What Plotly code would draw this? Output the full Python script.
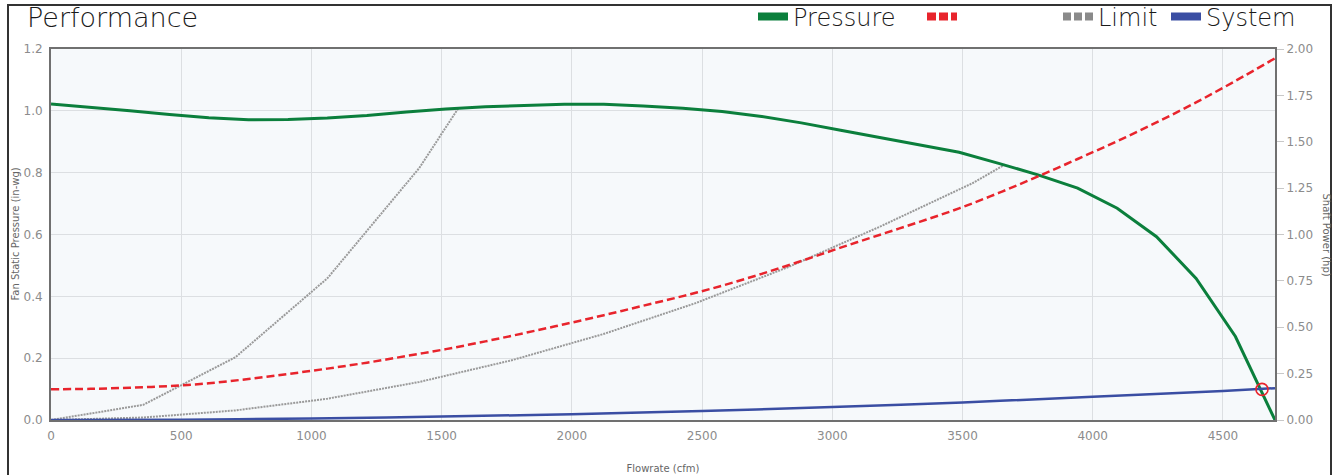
import plotly.graph_objects as go

# ---------------- data ----------------
flow = [0, 152, 303, 455, 606, 758, 910, 1061, 1213, 1365,
        1516, 1668, 1819, 1971, 2123, 2274, 2426, 2577, 2729, 2881,
        3032, 3184, 3335, 3487, 3639, 3790, 3942, 4094, 4245, 4397,
        4548, 4700]
pressure = [1.022, 1.012, 1.000, 0.988, 0.978, 0.971, 0.972, 0.977, 0.985, 0.996,
            1.006, 1.013, 1.018, 1.021, 1.021, 1.016, 1.008, 0.998, 0.982, 0.961,
            0.937, 0.914, 0.890, 0.866, 0.830, 0.793, 0.750, 0.685, 0.593, 0.458,
            0.270, 0.0]
power = [0.166, 0.168, 0.174, 0.183, 0.198, 0.221, 0.248, 0.277, 0.309, 0.345,
         0.382, 0.424, 0.469, 0.516, 0.565, 0.616, 0.668, 0.724, 0.788, 0.857,
         0.929, 0.999, 1.068, 1.141, 1.224, 1.313, 1.407, 1.503, 1.604, 1.712,
         1.828, 1.950]

limit_hi_flow = [0, 354, 708, 1062, 1414, 1563]
limit_hi = [0, 0.049, 0.203, 0.459, 0.815, 1.007]
limit_lo_flow = [0, 354, 708, 1062, 1414, 1768, 2121, 2475, 2829, 3182, 3536, 3662]
limit_lo = [0, 0.008, 0.031, 0.069, 0.123, 0.193, 0.278, 0.378, 0.494, 0.625, 0.765, 0.826]

sys_flow = [0, 500, 1000, 1500, 2000, 2500, 3000, 3500, 4000, 4500, 4700]
system = [0, 0.001, 0.005, 0.011, 0.019, 0.029, 0.042, 0.057, 0.075, 0.094, 0.103]

op_flow = [4650]
op_pressure = [0.099]

x_ticks = [0, 500, 1000, 1500, 2000, 2500, 3000, 3500, 4000, 4500]
y_ticks = [0.0, 0.2, 0.4, 0.6, 0.8, 1.0, 1.2]
y2_ticks = [0.0, 0.25, 0.5, 0.75, 1.0, 1.25, 1.5, 1.75, 2.0]

# ---------------- style ----------------
W, H = 1340, 475
ML, MR, MT, MB = 51, 65, 49, 55
PW = W - ML - MR
PH = H - MT - MB
FONT = "DejaVu Sans"
GREEN = "#0b7f3c"
RED = "#e8242c"
GRAY = "#9a9a9a"
BLUE = "#3a4ea3"


def px_x(px):
    return (px - ML) / PW


def px_y(py):
    return (H - MB - py) / PH


fig = go.Figure()

fig.add_trace(go.Scatter(x=limit_hi_flow, y=limit_hi, mode="lines", showlegend=False,
                         line=dict(color=GRAY, width=2, dash="2px,1px"), hoverinfo="skip"))
fig.add_trace(go.Scatter(x=limit_lo_flow, y=limit_lo, mode="lines", showlegend=False,
                         line=dict(color=GRAY, width=2, dash="2px,1px"), hoverinfo="skip"))
fig.add_trace(go.Scatter(x=flow, y=pressure, mode="lines", showlegend=False,
                         line=dict(color=GREEN, width=3)))
fig.add_trace(go.Scatter(x=sys_flow, y=system, mode="lines", showlegend=False,
                         line=dict(color=BLUE, width=2.5, shape="spline")))
fig.add_trace(go.Scatter(x=op_flow, y=op_pressure, mode="markers", showlegend=False,
                         marker=dict(size=12, color="rgba(0,0,0,0)",
                                     line=dict(color=RED, width=1.6))))
fig.add_trace(go.Scatter(x=flow, y=power, yaxis="y2", mode="lines", showlegend=False,
                         line=dict(color=RED, width=2.5, dash="8px,4px", shape="spline")))

# legend-only entries (thick symbols), each in its own legend box
leg_items = [("Pressure", GREEN, "solid", "legend", 753),
             (" ", RED, "9px,3px", "legend2", 922),
             ("Limit", "#8a8a8a", "8px,3px", "legend3", 1058),
             ("System", BLUE, "solid", "legend4", 1166)]
for name, col, dash, lg, _ in leg_items:
    fig.add_trace(go.Scatter(x=[None], y=[None], mode="lines", name=name, legend=lg,
                             line=dict(color=col, width=8, dash=dash)))


def legend_cfg(xpx):
    return dict(xref="paper", yref="paper", x=px_x(xpx), xanchor="left",
                y=px_y(17), yanchor="middle", orientation="h",
                bgcolor="rgba(0,0,0,0)", borderwidth=0,
                font=dict(family=FONT, size=24, color="#1a1a1a", weight=300))


layout_legends = {lg: legend_cfg(xp) for _, _, _, lg, xp in leg_items}

fig.update_layout(
    width=W, height=H,
    margin=dict(l=ML, r=MR, t=MT, b=MB, autoexpand=False),
    paper_bgcolor="white",
    plot_bgcolor="#f6f9fb",
    font=dict(family=FONT, color="#8c8c8c", size=12),
    title=dict(text="Performance", x=27 / W, xanchor="left", xref="container",
               y=1 - 18 / H, yanchor="middle", yref="container",
               font=dict(family=FONT, size=27, color="#1a1a1a", weight=300)),
    xaxis=dict(range=[0, 4700], tickvals=x_ticks, showgrid=True, gridcolor="#dcdfe2",
               gridwidth=1, zeroline=False, showline=True, linecolor="#707070",
               linewidth=2, mirror=True, ticks="outside", ticklen=4,
               tickcolor="rgba(0,0,0,0)", automargin=False,
               tickfont=dict(family=FONT, size=12, color="#8c8c8c"),
               title=dict(text="Flowrate (cfm)", standoff=23,
                          font=dict(family=FONT, size=10, color="#666"))),
    yaxis=dict(range=[0, 1.2], tickvals=y_ticks, tickformat=".1f", showgrid=True,
               gridcolor="#dcdfe2", gridwidth=1, zeroline=False, showline=True,
               linecolor="#707070", linewidth=2, mirror=True, ticks="outside",
               ticklen=4, tickcolor="rgba(0,0,0,0)", automargin=False,
               tickfont=dict(family=FONT, size=12, color="#8c8c8c")),
    yaxis2=dict(range=[0, 2.0], tickvals=y2_ticks, tickformat=".2f", overlaying="y",
                side="right", showgrid=False, zeroline=False, showline=True,
                linecolor="#707070", linewidth=2, ticks="outside", ticklen=7,
                tickcolor="#c8c8c8", automargin=False,
                tickfont=dict(family=FONT, size=12, color="#8c8c8c")),
    annotations=[
        dict(text="Fan Static Pressure (in-wg)", xref="paper", yref="paper",
             x=px_x(15), y=0.5, xanchor="center", yanchor="middle",
             textangle=-90, showarrow=False,
             font=dict(family=FONT, size=10, color="#666")),
        dict(text="Shaft Power (hp)", xref="paper", yref="paper",
             x=px_x(1326), y=0.5, xanchor="center", yanchor="middle",
             textangle=90, showarrow=False,
             font=dict(family=FONT, size=10, color="#666")),
    ],
    shapes=[dict(type="rect", xref="paper", yref="paper",
                 x0=px_x(8), x1=px_x(1331), y0=px_y(490), y1=px_y(5),
                 line=dict(color="#333", width=2), fillcolor="rgba(0,0,0,0)",
                 layer="above")],
    **layout_legends,
)

fig.write_html("out.html", config={"displayModeBar": False},
               post_script="document.body.style.margin='0';document.body.style.overflow='hidden';")
